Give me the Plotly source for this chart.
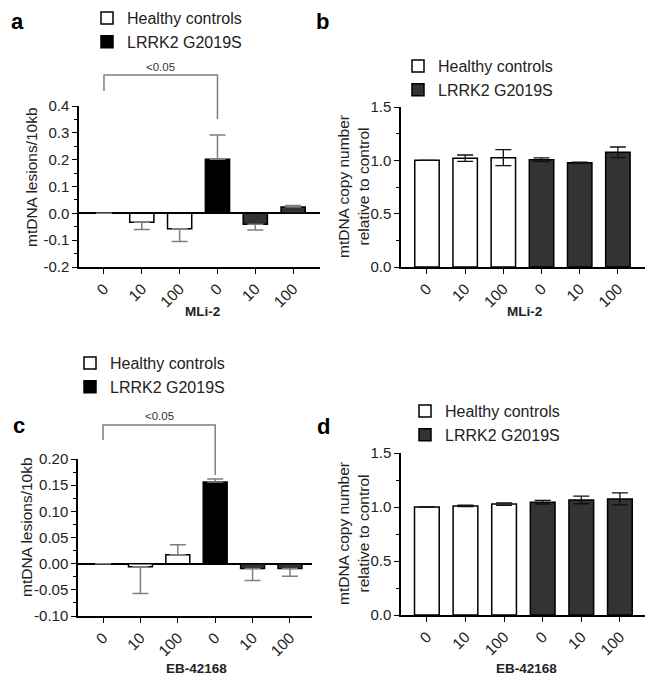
import plotly.graph_objects as go

# dose labels on the x axis (healthy controls first, then LRRK2 G2019S)
doses = ["0", "10", "100", "0", "10", "100"]
hc_idx = [0, 1, 2]
lr_idx = [3, 4, 5]

# panel a - mtDNA lesions, MLi-2
a_hc = [0.0, -0.033, -0.057]
a_hc_err = [0.0, 0.027, 0.048]
a_lr = [0.202, -0.041, 0.024]
a_lr_err = [0.090, 0.021, 0.005]

# panel b - copy number, MLi-2
b_hc = [1.0, 1.02, 1.025]
b_hc_err = [0.0, 0.03, 0.075]
b_lr = [1.005, 0.978, 1.075]
b_lr_err = [0.018, 0.006, 0.05]

# panel c - mtDNA lesions, EB-42168
c_hc = [0.0, -0.006, 0.017]
c_hc_err = [0.0, 0.051, 0.019]
c_lr = [0.156, -0.009, -0.009]
c_lr_err = [0.006, 0.023, 0.015]

# panel d - copy number, EB-42168
d_hc = [1.0, 1.01, 1.027]
d_hc_err = [0.0, 0.006, 0.012]
d_lr = [1.045, 1.065, 1.075]
d_lr_err = [0.017, 0.035, 0.055]

lesion_ticks_a = [-0.2, -0.1, 0.0, 0.1, 0.2, 0.3, 0.4]
lesion_text_a = ["-0.2", "-0.1", "0.0", "0.1", "0.2", "0.3", "0.4"]
lesion_ticks_c = [-0.10, -0.05, 0.0, 0.05, 0.10, 0.15, 0.20]
lesion_text_c = ["-0.10", "-0.05", "0.00", "0.05", "0.10", "0.15", "0.20"]
copy_ticks = [0.0, 0.5, 1.0, 1.5]
copy_text = ["0.0", "0.5", "1.0", "1.5"]

FONT = "Arial, Liberation Sans, sans-serif"
GREY = "#7f7f7f"
DARK = "#333333"
W, H = 661, 680


def px_x(v):
    return v / W


def px_y(v):
    return 1 - v / H


def one_sided(vals, errs):
    # lesion panels: error bar only on the side away from zero
    up = [e if v >= 0 else 0 for v, e in zip(vals, errs)]
    down = [e if v < 0 else 0 for v, e in zip(vals, errs)]
    return dict(type="data", symmetric=False, array=up, arrayminus=down,
                color=GREY, thickness=1.5, width=8)


def sym(vals, errs):
    return dict(type="data", array=errs, color="#111111", thickness=1.3, width=8)


fig = go.Figure()


def add_panel(n, hc, hc_err, lr, lr_err, lr_colors, errfun):
    xa = "x" if n == 1 else "x%d" % n
    ya = "y" if n == 1 else "y%d" % n
    lg = "legend" if n == 1 else "legend%d" % n
    fig.add_trace(go.Bar(
        x=hc_idx, y=hc, width=0.64, name="Healthy controls",
        marker=dict(color="white", line=dict(color="black", width=1.5)),
        error_y=errfun(hc, hc_err), xaxis=xa, yaxis=ya, legend=lg,
    ))
    fig.add_trace(go.Bar(
        x=lr_idx, y=lr, width=0.64, name="LRRK2 G2019S",
        marker=dict(color=lr_colors, line=dict(color="black", width=1.5)),
        error_y=errfun(lr, lr_err), xaxis=xa, yaxis=ya, legend=lg,
    ))


add_panel(1, a_hc, a_hc_err, a_lr, a_lr_err, ["#000000", DARK, DARK], one_sided)
add_panel(2, b_hc, b_hc_err, b_lr, b_lr_err, [DARK, DARK, DARK], sym)
add_panel(3, c_hc, c_hc_err, c_lr, c_lr_err, ["#000000", DARK, DARK], one_sided)
add_panel(4, d_hc, d_hc_err, d_lr, d_lr_err, [DARK, DARK, DARK], sym)


def xaxis(domain, rng, anchor):
    return dict(domain=domain, range=rng, anchor=anchor, automargin=False,
                tickvals=list(range(6)), ticktext=doses, tickangle=-45,
                ticks="outside", ticklen=5, tickwidth=1.3, tickcolor="black",
                showline=True, linecolor="black", linewidth=1.5,
                showgrid=False, zeroline=False,
                tickfont=dict(size=15.5, color="#222", family=FONT))


def yaxis(domain, rng, anchor, tv, tt, minor_dt, zero):
    return dict(domain=domain, range=rng, anchor=anchor, automargin=False,
                tickvals=tv, ticktext=tt, ticks="outside", ticklen=5,
                tickwidth=1.3, tickcolor="black",
                minor=dict(ticks="outside", ticklen=3, dtick=minor_dt, tickcolor="black", tickwidth=1.2),
                showline=True, linecolor="black", linewidth=1.5, showgrid=False,
                zeroline=zero, zerolinecolor="black", zerolinewidth=1.5,
                tickfont=dict(size=15, color="#222", family=FONT))


fig.update_layout(
    width=W, height=H, margin=dict(l=0, r=0, t=0, b=0),
    paper_bgcolor="white", plot_bgcolor="white",
    font=dict(family=FONT, color="#222"),
    barmode="overlay", showlegend=True,
    xaxis=xaxis([px_x(79), px_x(320)], [-0.66, 5.71], "y"),
    yaxis=yaxis([px_y(267), px_y(106)], [-0.2, 0.4], "x", lesion_ticks_a, lesion_text_a, 0.05, True),
    xaxis2=xaxis([px_x(401), px_x(645)], [-0.68, 5.71], "y2"),
    yaxis2=yaxis([px_y(267), px_y(107)], [0, 1.5], "x2", copy_ticks, copy_text, 0.25, False),
    xaxis3=xaxis([px_x(78), px_x(312)], [-0.67, 5.59], "y3"),
    yaxis3=yaxis([px_y(616), px_y(459)], [-0.10, 0.20], "x3", lesion_ticks_c, lesion_text_c, 0.025, True),
    xaxis4=xaxis([px_x(401), px_x(645)], [-0.67, 5.65], "y4"),
    yaxis4=yaxis([px_y(615), px_y(453)], [0, 1.5], "x4", copy_ticks, copy_text, 0.25, False),
)

leg = dict(xanchor="left", yanchor="top", bgcolor="rgba(0,0,0,0)",
           font=dict(size=16, color="#222", family=FONT), itemclick=False)
fig.update_layout(
    legend=dict(leg, x=px_x(87), y=px_y(1)),
    legend2=dict(leg, x=px_x(398), y=px_y(49)),
    legend3=dict(leg, x=px_x(70), y=px_y(346)),
    legend4=dict(leg, x=px_x(405), y=px_y(394)),
)

# significance brackets (HC 0 vs LRRK2 0)
for xa, top, left_bot, right_bot, txt_y in [("x", 75, 91, 119, 67), ("x3", 425, 440, 475, 416)]:
    fig.add_shape(type="path", xref=xa, yref="paper",
                  path="M 0,%f L 0,%f L 3,%f L 3,%f" % (px_y(left_bot), px_y(top), px_y(top), px_y(right_bot)),
                  line=dict(color=GREY, width=1.5))
    fig.add_annotation(x=1.5, xref=xa, y=px_y(txt_y), yref="paper", text="&lt;0.05",
                       showarrow=False, yanchor="middle",
                       font=dict(size=11.5, color="#333", family=FONT))

# axis titles
ytitles = [("mtDNA lesions/10kb", 32, 177), ("mtDNA copy number<br>relative to control", 353, 187),
           ("mtDNA lesions/10kb", 26, 527), ("mtDNA copy number<br>relative to control", 353, 534)]
for txt, x, y in ytitles:
    fig.add_annotation(x=px_x(x), y=px_y(y), xref="paper", yref="paper", text=txt, textangle=-90,
                       showarrow=False, xanchor="center", yanchor="middle",
                       font=dict(size=15.5, color="#222", family=FONT))
xtitles = [("MLi-2", 202, 312), ("MLi-2", 524, 312), ("EB-42168", 196, 668), ("EB-42168", 526, 668)]
for txt, x, y in xtitles:
    fig.add_annotation(x=px_x(x), y=px_y(y), xref="paper", yref="paper", text="<b>%s</b>" % txt,
                       showarrow=False, xanchor="center", yanchor="middle",
                       font=dict(size=13.5, color="#222", family=FONT))

for lab, x, y in [("a", 17, 21), ("b", 322, 21), ("c", 19, 425), ("d", 323, 426)]:
    fig.add_annotation(x=px_x(x), y=px_y(y), xref="paper", yref="paper", text="<b>%s</b>" % lab,
                       showarrow=False, xanchor="center", yanchor="middle",
                       font=dict(size=22, color="black", family=FONT))

# drop the default page margin so the figure sits at the window's corner
fig.write_html("out.html", config={"displayModeBar": False},
               post_script="document.body.style.margin='0';")
